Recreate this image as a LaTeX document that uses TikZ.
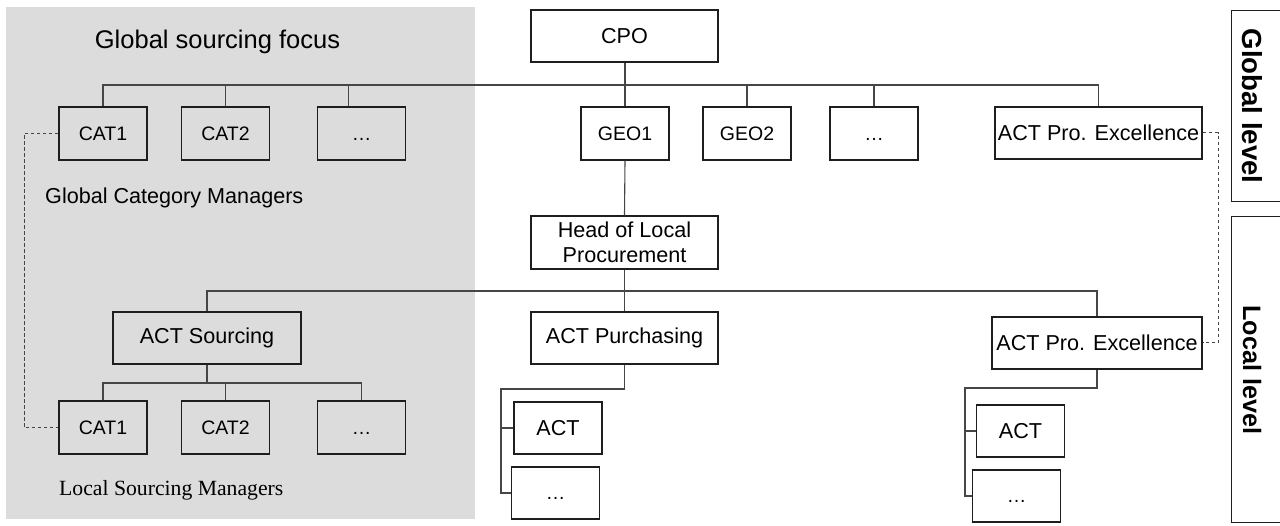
\documentclass[tikz,border=0pt]{standalone}
\usepackage{fontspec}
\setmainfont{Liberation Sans}
\newfontfamily\notefont{Liberation Serif}
\usepackage{tikz}
\usetikzlibrary{calc}

\definecolor{focusgray}{RGB}{220,220,220}
\definecolor{linegray}{RGB}{70,70,70}
\definecolor{boxline}{RGB}{30,30,30}

\begin{document}
\begin{tikzpicture}[x=1pt,y=-1pt,
		orgbox/.style={draw=boxline, line width=1.4pt, inner sep=0pt, minimum height=52, align=center, font=\fontsize{21.6}{25}\selectfont},
		catbox/.style={orgbox, minimum width=88, minimum height=53, font=\fontsize{19.5}{23}\selectfont},
		leafbox/.style={orgbox, minimum width=88, minimum height=52, font=\fontsize{21.6}{25}\selectfont},
		link/.style={draw=linegray, line width=1.1pt},
		dotlink/.style={draw=linegray, line width=1pt, dash pattern=on 3.5pt off 2.5pt},
		levelbox/.style={draw=boxline, line width=1.4pt, anchor=north west, minimum width=70, inner sep=0pt},
		leveltext/.style={rotate=-90, inner sep=0pt, font=\bfseries}]
		\useasboundingbox (0,0) rectangle (1280,526);

		% Global sourcing focus area
		\fill[focusgray] (6,7) rectangle (475,519);
		\node[font=\fontsize{25.5}{30}\selectfont] (focus) at (217.5,42) {Global sourcing focus};

		% Define nodes
		\node[orgbox, minimum width=187] (cpo) at (624.5,36) {CPO};
		\node[catbox] (cat1g) at (103,133.5) {CAT1};
		\node[catbox] (cat2g) at (225.5,133.5) {CAT2};
		\node[catbox] (dotsg) at (361.5,133.5) {\vphantom{C}\dots};
		\node[catbox] (geo1) at (625,133.5) {GEO1};
		\node[catbox] (geo2) at (747,133.5) {GEO2};
		\node[catbox] (dotsgeo) at (874,133.5) {\vphantom{C}\dots};
		\node[orgbox, minimum width=207] (actpe) at (1098.5,133) {ACT Pro. Excellence};
		\node[anchor=west, inner sep=0pt, font=\fontsize{21.6}{25}\selectfont] (gcm) at (45,198) {Global Category Managers};

		\node[orgbox, minimum width=187, minimum height=53] (head) at (624.5,242.5) {Head of Local\\Procurement};
		\node[orgbox, minimum width=188] (actsrc) at (207,338) {ACT Sourcing};
		\node[orgbox, minimum width=187] (actpur) at (624.5,338) {ACT Purchasing};
		\node[orgbox, minimum width=210] (actpel) at (1097,343) {ACT Pro. Excellence};

		\node[catbox] (cat1l) at (103,427.5) {CAT1};
		\node[catbox] (cat2l) at (225.5,427.5) {CAT2};
		\node[catbox] (dotsl) at (361.5,427.5) {\vphantom{C}\dots};
		\node[anchor=west, inner sep=0pt, font=\notefont\fontsize{21.7}{25}\selectfont] (lsm) at (59,490) {Local Sourcing Managers};

		\node[leafbox] (actp1) at (558,428) {ACT};
		\node[leafbox, font=\fontsize{19.5}{23}\selectfont] (dotsp1) at (555.5,493) {\vphantom{C}\dots};
		\node[leafbox] (actpe1) at (1020.5,431) {ACT};
		\node[leafbox, font=\fontsize{19.5}{23}\selectfont] (dotspe1) at (1016.5,496) {\vphantom{C}\dots};

		% Level boxes
		\node[levelbox, minimum height=191] (glevel) at (1231,10) {};
		\node[leveltext, font=\fontsize{27.6}{30}\selectfont\bfseries] (gtext) at ([xshift=21]glevel.west) {Global level};
		\node[levelbox, minimum height=306] (llevel) at (1231,216) {};
		\node[leveltext, font=\fontsize{25.2}{30}\selectfont\bfseries] (ltext) at ([xshift=21]llevel.west) {Local level};

		% Bus lines
		\coordinate (topbar) at (0,85);
		\coordinate (lowbar) at (0,291);
		\coordinate (srcbar) at (0,383);
		\coordinate (purbend) at (501,389);
		\coordinate (pebend) at (965,388);
		\coordinate (dashl) at (24,0);
		\coordinate (dashr) at (1218,0);

		% Connect the nodes
		\draw[link, line width=2pt] (cpo.south) -- (cpo.south |- topbar);
		\draw[link] (cat1g.north) -- (cat1g.north |- topbar) -| (actpe.north);
		\draw[link] (cat2g.north) -- (cat2g.north |- topbar);
		\draw[link] ([xshift=-13]dotsg.north) -- ([xshift=-13]dotsg.north |- topbar);
		\draw[link] (geo1.north) -- (geo1.north |- topbar);
		\draw[link] (geo2.north) -- (geo2.north |- topbar);
		\draw[link] (dotsgeo.north) -- (dotsgeo.north |- topbar);
		\draw[link] (geo1.south) -- (head.north);

		\draw[link, line width=1.5pt] (head.south) -- (head.south |- lowbar);
		\draw[link] (head.south |- lowbar) -- (actpur.north);
		\draw[link] (actsrc.north) -- (actsrc.north |- lowbar) -| (actpel.north);

		\draw[link, line width=2pt] (actsrc.south) -- (actsrc.south |- srcbar);
		\draw[link] (cat1l.north) -- (cat1l.north |- srcbar) -| (dotsl.north);
		\draw[link] (cat2l.north) -- (cat2l.north |- srcbar);

		\draw[link] (actpur.south) |- (purbend) |- (actp1.west);
		\draw[link] (purbend) |- (dotsp1.west);
		\draw[link] (actpel.south) |- (pebend) |- (actpe1.west);
		\draw[link] (pebend) |- (dotspe1.west);

		\draw[dotlink] (cat1g.west) -- (cat1g.west -| dashl) |- (cat1l.west);
		\draw[dotlink] (actpe.east) -- (actpe.east -| dashr) |- (actpel.east);
	\end{tikzpicture}
\end{document}
